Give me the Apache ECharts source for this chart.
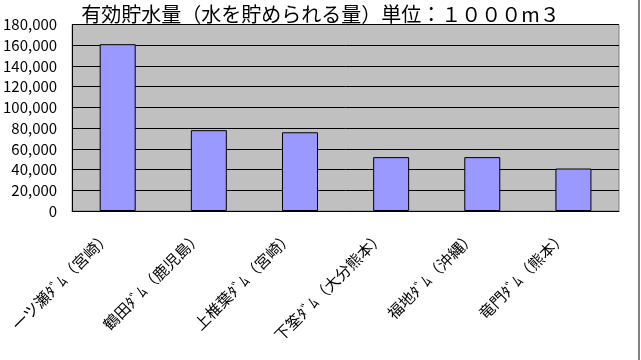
<!DOCTYPE html>
<html><head><meta charset="utf-8">
<script src="https://cdn.jsdelivr.net/npm/echarts@6/dist/echarts.min.js"></script>
<style>html,body{margin:0;padding:0;background:#fff}#c{width:641px;height:360px}</style>
</head><body><div id="c"></div>
<script>
var titleText = '有効貯水量（水を貯められる量）単位：１０００m３';
var categories = ['一ツ瀬ﾀﾞﾑ（宮崎）', '鶴田ﾀﾞﾑ（鹿児島）', '上椎葉ﾀﾞﾑ（宮崎）', '下筌ﾀﾞﾑ（大分熊本）', '福地ﾀﾞﾑ（沖縄）', '竜門ﾀﾞﾑ（熊本）'];
var values = [161000, 78000, 76000, 52000, 52000, 41000];
var yTicks = [0, 20000, 40000, 60000, 80000, 100000, 120000, 140000, 160000, 180000];

var font = '"Noto Sans CJK JP", "Noto Sans", sans-serif';
var chart = echarts.init(document.getElementById('c'), null, {renderer: 'canvas'});
chart.setOption({
  backgroundColor: '#ffffff',
  animation: false,
  title: {
    text: titleText, left: 'center', top: -1,
    textStyle: {fontFamily: font, fontSize: 20, fontWeight: 'normal', color: '#000'}
  },
  grid: {
    left: 71, right: 22, top: 24.5, bottom: 149,
    show: true, backgroundColor: '#c0c0c0', borderColor: '#808080', borderWidth: 1
  },
  xAxis: {
    type: 'category', data: categories,
    axisLine: {lineStyle: {color: '#000', width: 1}},
    axisTick: {inside: true, length: 4, alignWithLabel: false, lineStyle: {color: '#000'}},
    axisLabel: {rotate: 45, fontFamily: font, fontSize: 15.5, color: '#000', margin: 13, interval: 0, padding: [0, 14, 0, 0]}
  },
  yAxis: {
    type: 'value', min: yTicks[0], max: yTicks[yTicks.length - 1], interval: yTicks[1] - yTicks[0],
    axisLine: {show: true, lineStyle: {color: '#000', width: 1}},
    axisTick: {show: false},
    splitLine: {lineStyle: {color: '#000', width: 1}},
    axisLabel: {
      fontFamily: font, fontSize: 15, color: '#000', margin: 15,
      formatter: function (v) { return v.toLocaleString('en-US'); }
    }
  },
  series: [{
    type: 'bar', data: values, barWidth: 36,
    itemStyle: {color: '#9999ff', borderColor: '#000', borderWidth: 1}
  }],
  graphic: [{
    type: 'line', shape: {x1: 639, y1: 0, x2: 639, y2: 360},
    style: {stroke: '#808080', lineWidth: 2}
  }]
});
</script></body></html>
